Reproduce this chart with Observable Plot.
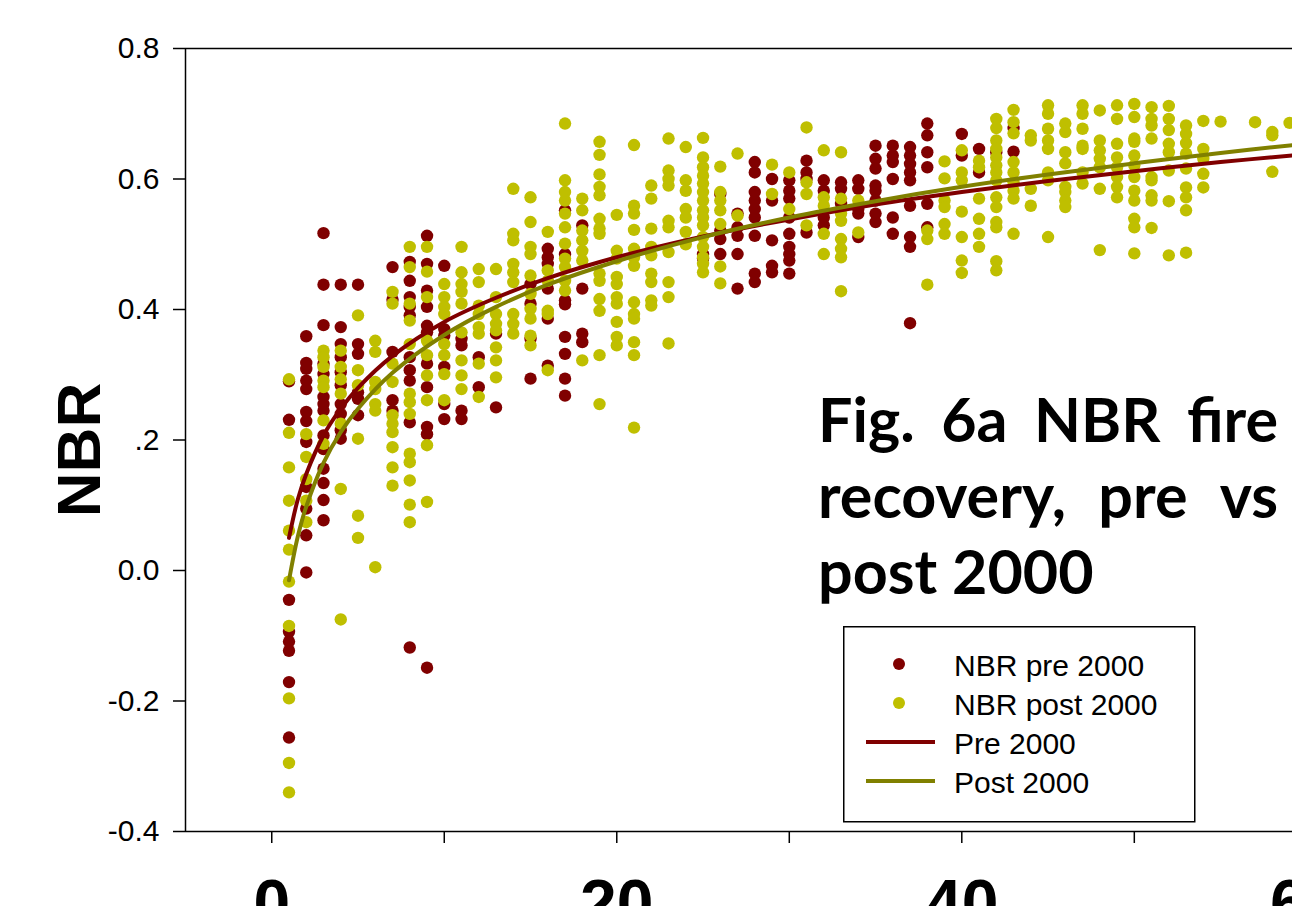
<!DOCTYPE html>
<html>
<head>
<meta charset="utf-8">
<script src="https://cdn.jsdelivr.net/npm/d3@7"></script>
<script src="https://cdn.jsdelivr.net/npm/@observablehq/plot@0.6"></script>
<style>
  html, body { margin: 0; padding: 0; background: #fff; overflow: hidden; }
  #wrap { position: relative; width: 1292px; height: 906px; overflow: hidden; }
  #title { position: absolute; left: 818px; top: 381px; width: 460px;
           font-family: Lato, "Open Sans", sans-serif; font-weight: 700; font-size: 61px; line-height: 76px; color: #000; }
  .tline { display: flex; justify-content: space-between; white-space: nowrap; }
  .tlast { white-space: nowrap; }
  #legend { position: absolute; left: 843px; top: 626px; }
</style>
</head>
<body>
<div id="wrap"></div>
<script>
// ---- Data: NBR by years since fire ----
const preYears = [1, 2, 3, 4, 5, 7, 8, 9, 10, 11, 12, 13, 15, 16, 17, 18, 25, 26, 27, 28, 29, 30, 31, 32, 33, 34, 35, 36, 37, 38, 40, 41, 42, 43];
const preValues = [
  [0.290, 0.231, -0.045, -0.094, -0.109, -0.123, -0.171, -0.256],
  [0.359, 0.318, 0.309, 0.291, 0.278, 0.243, 0.229, 0.197, 0.128, 0.095, 0.054, -0.003],
  [0.517, 0.438, 0.376, 0.317, 0.301, 0.266, 0.255, 0.245, 0.207, 0.186, 0.156, 0.134, 0.108, 0.077],
  [0.438, 0.373, 0.347, 0.327, 0.304, 0.284, 0.255, 0.240, 0.215, 0.202],
  [0.438, 0.347, 0.332, 0.273, 0.263, 0.238],
  [0.465, 0.415, 0.335, 0.261, 0.245],
  [0.473, 0.444, 0.419, 0.404, 0.391, 0.327, 0.307, 0.291, 0.227, -0.118],
  [0.513, 0.470, 0.429, 0.404, 0.375, 0.365, 0.317, 0.281, 0.220, 0.209, -0.149],
  [0.467, 0.370, 0.360, 0.312, 0.255, 0.232],
  [0.355, 0.345, 0.245, 0.232],
  [0.327, 0.281],
  [0.363, 0.250],
  [0.439, 0.409, 0.355, 0.294],
  [0.493, 0.480, 0.470, 0.432, 0.386, 0.314],
  [0.552, 0.485, 0.414, 0.408, 0.358, 0.332, 0.294, 0.268],
  [0.529, 0.432, 0.363, 0.350],
  [0.485, 0.478],
  [0.577, 0.521, 0.508, 0.485],
  [0.547, 0.526, 0.513, 0.485, 0.432],
  [0.626, 0.610, 0.580, 0.567, 0.554, 0.541, 0.513, 0.455, 0.442],
  [0.600, 0.567, 0.506, 0.467, 0.457],
  [0.598, 0.582, 0.570, 0.541, 0.516, 0.496, 0.485, 0.475, 0.455],
  [0.628, 0.610, 0.600, 0.518],
  [0.598, 0.582, 0.541, 0.529],
  [0.595, 0.585, 0.562],
  [0.598, 0.585, 0.554, 0.547, 0.511],
  [0.651, 0.631, 0.616, 0.590, 0.582, 0.567, 0.547, 0.534],
  [0.651, 0.636, 0.626, 0.600, 0.541, 0.516],
  [0.649, 0.636, 0.623, 0.610, 0.598, 0.559, 0.511, 0.496, 0.379],
  [0.685, 0.667, 0.641, 0.618, 0.562, 0.526],
  [0.669, 0.636],
  [0.646, 0.610],
  [0.641],
  [0.678, 0.642]
];

const postYears = [1, 2, 3, 4, 5, 6, 7, 8, 9, 10, 11, 12, 13, 14, 15, 16, 17, 18, 19, 20, 21, 22, 23, 24, 25, 26, 27, 29, 30, 31, 32, 33, 34, 38, 39, 40, 41, 42, 43, 44, 45, 46, 47, 48, 49, 50, 51, 52, 53, 54, 55, 57, 58, 59];
const postValues = [
  [0.293, 0.211, 0.158, 0.107, 0.061, 0.032, -0.017, -0.085, -0.196, -0.295, -0.340],
  [0.209, 0.174, 0.140, 0.107, 0.074],
  [0.337, 0.327, 0.312, 0.291, 0.281, 0.230, 0.194],
  [0.337, 0.312, 0.293, 0.271, 0.225, 0.125, -0.075],
  [0.391, 0.307, 0.284, 0.202, 0.084, 0.050],
  [0.352, 0.335, 0.289, 0.278, 0.255, 0.245, 0.005],
  [0.427, 0.409, 0.317, 0.289, 0.238, 0.225, 0.212, 0.189, 0.158, 0.130],
  [0.496, 0.465, 0.409, 0.383, 0.347, 0.271, 0.258, 0.240, 0.179, 0.166, 0.138, 0.101, 0.074],
  [0.496, 0.458, 0.419, 0.352, 0.330, 0.299, 0.261, 0.192, 0.105],
  [0.439, 0.419, 0.404, 0.393, 0.347, 0.330, 0.301, 0.261],
  [0.496, 0.457, 0.439, 0.427, 0.409, 0.365, 0.322, 0.299, 0.278],
  [0.462, 0.442, 0.406, 0.393, 0.373, 0.363, 0.317, 0.266],
  [0.462, 0.419, 0.393, 0.378, 0.368, 0.342, 0.322, 0.296],
  [0.585, 0.516, 0.506, 0.470, 0.457, 0.442, 0.393, 0.378, 0.363],
  [0.572, 0.534, 0.496, 0.485, 0.452, 0.424, 0.401, 0.386, 0.360, 0.345],
  [0.519, 0.460, 0.444, 0.398, 0.393, 0.307],
  [0.685, 0.598, 0.580, 0.567, 0.547, 0.526, 0.501, 0.478, 0.465, 0.444, 0.429],
  [0.570, 0.552, 0.521, 0.506, 0.490, 0.475, 0.322],
  [0.657, 0.637, 0.607, 0.588, 0.575, 0.539, 0.524, 0.516, 0.455, 0.444, 0.416, 0.398, 0.330, 0.255],
  [0.545, 0.490, 0.478, 0.450, 0.439, 0.419, 0.409, 0.381, 0.358, 0.345],
  [0.652, 0.559, 0.547, 0.522, 0.493, 0.480, 0.467, 0.411, 0.393, 0.386, 0.350, 0.330, 0.219],
  [0.590, 0.570, 0.524, 0.496, 0.483, 0.455, 0.442, 0.414, 0.406],
  [0.662, 0.613, 0.600, 0.590, 0.536, 0.526, 0.488, 0.442, 0.419, 0.348],
  [0.649, 0.598, 0.582, 0.554, 0.541, 0.519, 0.500],
  [0.663, 0.633, 0.618, 0.605, 0.593, 0.580, 0.567, 0.552, 0.541, 0.529, 0.511, 0.496, 0.480, 0.470, 0.457],
  [0.619, 0.580, 0.567, 0.552, 0.531, 0.466, 0.440],
  [0.639, 0.544],
  [0.622, 0.577],
  [0.610, 0.554],
  [0.679, 0.595, 0.577, 0.529],
  [0.644, 0.572, 0.559, 0.516, 0.485],
  [0.641, 0.570, 0.547, 0.536, 0.508, 0.493, 0.480, 0.428],
  [0.567, 0.518],
  [0.521, 0.508, 0.438],
  [0.627, 0.601, 0.567, 0.557, 0.531, 0.516],
  [0.644, 0.610, 0.598, 0.550, 0.511, 0.475, 0.456],
  [0.628, 0.618, 0.570, 0.539, 0.516, 0.496],
  [0.692, 0.678, 0.659, 0.646, 0.633, 0.621, 0.610, 0.598, 0.572, 0.557, 0.534, 0.526, 0.474, 0.460],
  [0.706, 0.687, 0.670, 0.626, 0.610, 0.595, 0.582, 0.570, 0.516],
  [0.667, 0.659, 0.585, 0.559],
  [0.713, 0.700, 0.677, 0.659, 0.646, 0.610, 0.598, 0.511],
  [0.685, 0.672, 0.641, 0.624, 0.588, 0.580, 0.567, 0.557],
  [0.713, 0.700, 0.677, 0.651, 0.646, 0.610, 0.593],
  [0.705, 0.659, 0.644, 0.631, 0.618, 0.585, 0.491],
  [0.713, 0.692, 0.654, 0.633, 0.618, 0.603, 0.588, 0.572],
  [0.715, 0.695, 0.662, 0.657, 0.636, 0.621, 0.603, 0.582, 0.567, 0.539, 0.526, 0.486],
  [0.710, 0.692, 0.682, 0.662, 0.603, 0.598, 0.575, 0.567, 0.525],
  [0.712, 0.692, 0.675, 0.654, 0.641, 0.613, 0.566, 0.483],
  [0.682, 0.669, 0.655, 0.639, 0.616, 0.587, 0.572, 0.552, 0.487],
  [0.689, 0.646, 0.631, 0.608, 0.587],
  [0.688],
  [0.687],
  [0.672, 0.667, 0.611],
  [0.686]
];

// Fitted recovery curves
const fitYears = [1, 1.5, 2, 3, 4, 5, 7, 10, 13, 16, 20, 25, 30, 35, 40, 45, 50, 55, 59.2];
const preFit   = [0.050, 0.108, 0.148, 0.207, 0.248, 0.280, 0.329, 0.381, 0.418, 0.448, 0.480, 0.512, 0.538, 0.561, 0.580, 0.597, 0.612, 0.626, 0.636];
const postFit  = [-0.015, 0.051, 0.098, 0.165, 0.212, 0.248, 0.303, 0.361, 0.404, 0.438, 0.474, 0.511, 0.541, 0.566, 0.588, 0.607, 0.624, 0.640, 0.652];

// Axes
const yTicks = [-0.4, -0.2, 0, 0.2, 0.4, 0.6, 0.8];
const yTickLabels = ["-0.4", "-0.2", "0.0", ".2", "0.4", "0.6", "0.8"];
const xTicks = [0, 10, 20, 30, 40, 50, 60];
const xLabelTicks = [0, 20, 40, 60];
const yLabel = "NBR";

// Legend & title
const legendLabels = ["NBR pre 2000", "NBR post 2000", "Pre 2000", "Post 2000"];
const legendKinds = ["dot", "dot", "line", "line"];
const legendColors = ["#800000", "#BFBF00", "#800000", "#808000"];
const titleLines = [["Fig.", "6a", "NBR", "fire"], ["recovery,", "pre", "vs"], ["post 2000"]];

const colPre = "#800000", colPost = "#BFBF00", colPreLine = "#800000", colPostLine = "#808000";

// ---- Build tables ----
const preRows = preYears.flatMap((yr, i) => preValues[i].map(v => ({year: yr, nbr: v})));
const postRows = postYears.flatMap((yr, i) => postValues[i].map(v => ({year: yr, nbr: v})));
const preFitRows = fitYears.map((yr, i) => ({year: yr, nbr: preFit[i]}));
const postFitRows = fitYears.map((yr, i) => ({year: yr, nbr: postFit[i]}));

const chart = Plot.plot({
  width: 1292,
  height: 906,
  marginLeft: 185,
  marginRight: 0,
  marginTop: 48,
  marginBottom: 75,
  x: {domain: [-5, 59.17]},
  y: {domain: [-0.4, 0.8]},
  style: {fontFamily: "'Liberation Sans', Arial, sans-serif", background: "white", overflow: "visible", color: "black"},
  marks: [
    Plot.dot(preRows, {x: "year", y: "nbr", r: 6.2, fill: colPre, stroke: "none"}),
    Plot.dot(postRows, {x: "year", y: "nbr", r: 6.2, fill: colPost, stroke: "none"}),
    Plot.line(preFitRows, {x: "year", y: "nbr", stroke: colPreLine, strokeWidth: 4, curve: "catmull-rom"}),
    Plot.line(postFitRows, {x: "year", y: "nbr", stroke: colPostLine, strokeWidth: 4, curve: "catmull-rom"}),
    Plot.ruleY([-0.4, 0.8], {stroke: "black", strokeWidth: 1.5}),
    Plot.ruleX([-5], {stroke: "black", strokeWidth: 1.5}),
    Plot.axisY({ticks: yTicks, tickSize: 12, tickPadding: 14, tickFormat: d => yTickLabels[yTicks.indexOf(d)],
                fontSize: 30, label: null, stroke: "black", strokeWidth: 1.5}),
    Plot.axisX({ticks: xTicks, tickSize: 12, tickFormat: () => "", label: null, stroke: "black", strokeWidth: 1.5}),
    Plot.axisX({ticks: xLabelTicks, tickSize: 0, tickPadding: 48, label: null,
                fontSize: 66, fontWeight: "bold", fontFamily: "'Liberation Sans Narrow', 'Liberation Sans', Arial, sans-serif"}),
    Plot.text([yLabel], {frameAnchor: "left", textAnchor: "middle", rotate: -90, dx: -105, dy: 10, fontSize: 62, fontWeight: "bold", fill: "black"})
  ]
});
document.getElementById("wrap").appendChild(chart);

// ---- Title (justified, inside plot) ----
const title = d3.select("#wrap").append("div").attr("id", "title");
titleLines.forEach((words, i) => {
  const line = title.append("div").attr("class", i < titleLines.length - 1 ? "tline" : "tlast");
  words.forEach(w => line.append("span").text(w));
});

// ---- Legend ----
const lg = d3.select("#wrap").append("svg").attr("id", "legend").attr("width", 354).attr("height", 198);
lg.append("rect").attr("x", 0.75).attr("y", 0.75).attr("width", 351).attr("height", 195)
  .attr("fill", "white").attr("stroke", "black").attr("stroke-width", 1.5);
legendLabels.forEach((lab, i) => {
  const cy = 38 + i * 39;
  if (legendKinds[i] === "dot") {
    lg.append("circle").attr("cx", 56).attr("cy", cy).attr("r", 6).attr("fill", legendColors[i]);
  } else {
    lg.append("line").attr("x1", 23).attr("x2", 92).attr("y1", cy).attr("y2", cy)
      .attr("stroke", legendColors[i]).attr("stroke-width", 4);
  }
  lg.append("text").attr("x", 111).attr("y", cy + 12).text(lab)
    .attr("font-family", "'Liberation Sans', Arial, sans-serif").attr("font-size", 30).attr("fill", "black");
});
</script>
</body>
</html>
